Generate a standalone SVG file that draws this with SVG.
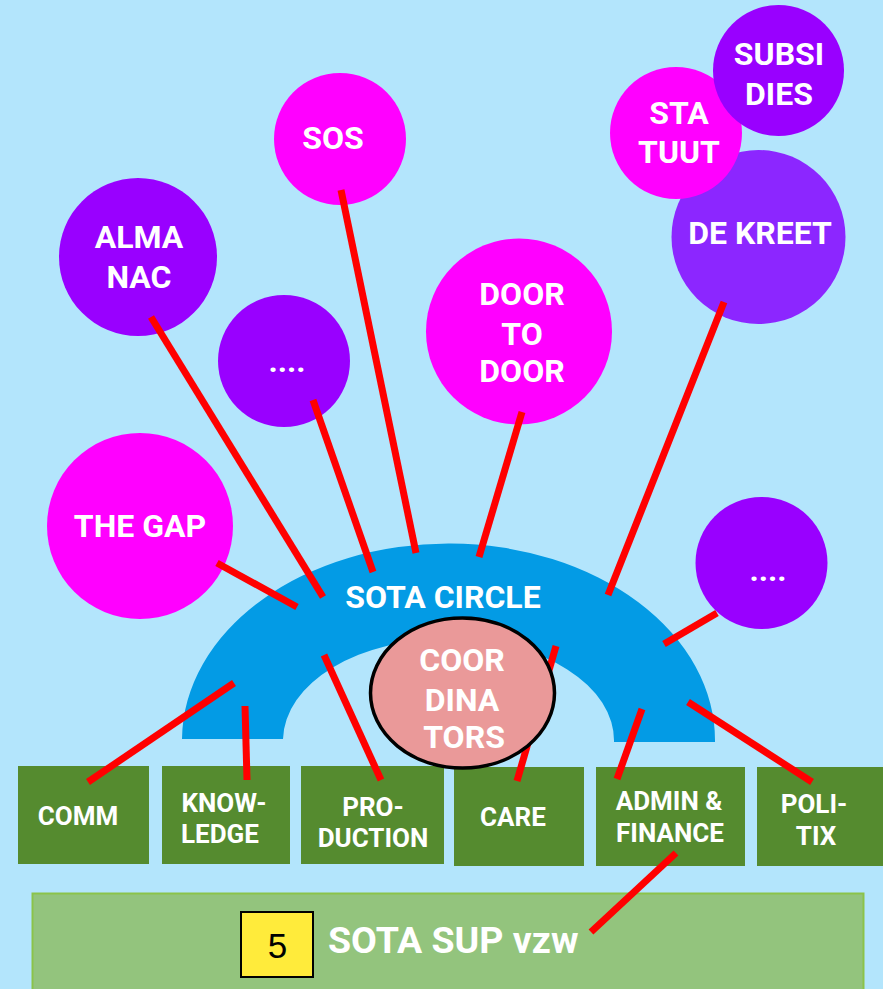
<svg xmlns="http://www.w3.org/2000/svg" width="883" height="989" viewBox="0 0 883 989">
<style>
.t{font-family:Roboto,"Liberation Sans",Arial,sans-serif;font-weight:bold;fill:#fff;text-anchor:middle}
.big{font-size:32px}
.sm{font-size:26px}
.mag{fill:#FF00FF}
.pur{fill:#9900FF}
.box{fill:#558B2F}
.ln{stroke:#FF0000;stroke-width:7;fill:none}
</style>
<rect width="883" height="989" fill="#B3E5FC"/>
<g id="sos"><circle class="mag" cx="340" cy="139" r="66"/><text class="t big" x="333" y="149">SOS</text></g>
<g id="almanac"><circle class="pur" cx="138" cy="257" r="79"/><text class="t big" x="139" y="248">ALMA</text><text class="t big" x="139" y="288">NAC</text></g>
<g id="dots1"><circle class="pur" cx="284" cy="361" r="66"/><text class="t big" x="287" y="372">....</text></g>
<g id="doortodoor"><circle class="mag" cx="519" cy="331.5" r="93"/><text class="t big" x="522" y="305">DOOR</text><text class="t big" x="522" y="345">TO</text><text class="t big" x="522" y="382">DOOR</text></g>
<g id="thegap"><circle class="mag" cx="140" cy="526" r="93"/><text class="t big" x="140" y="537">THE GAP</text></g>
<g id="dekreet"><circle cx="758.5" cy="237" r="87" fill="#8C26FF"/><text class="t big" x="760" y="244">DE KREET</text></g>
<g id="statuut"><circle class="mag" cx="676" cy="133" r="66"/><text class="t big" x="679" y="124">STA</text><text class="t big" x="679" y="163">TUUT</text></g>
<g id="subsidies"><circle class="pur" cx="778.5" cy="70.5" r="65.5"/><text class="t big" x="779" y="65">SUBSI</text><text class="t big" x="779" y="105">DIES</text></g>
<g id="dots2"><circle class="pur" cx="761.5" cy="563" r="66"/><text class="t big" x="768" y="581">....</text></g>
<g id="sotacircle"><path d="M182 739 A266.5 197 0 0 1 715 742 L614 742 A165.5 102 0 0 0 283 739 Z" fill="#039BE5"/><text class="t big" x="443" y="608">SOTA CIRCLE</text></g>
<g id="comm"><rect class="box" x="18" y="766" width="131" height="98"/><text class="t sm" x="78" y="825">COMM</text></g>
<g id="knowledge"><rect class="box" x="162" y="766" width="128" height="98"/><text class="t sm" x="224" y="812">KNOW-</text><text class="t sm" x="220" y="843">LEDGE</text></g>
<g id="production"><rect class="box" x="301" y="766" width="143" height="98"/><text class="t sm" x="373" y="816">PRO-</text><text class="t sm" x="373" y="847">DUCTION</text></g>
<g id="care"><rect class="box" x="454" y="767" width="130" height="99"/><text class="t sm" x="513" y="826">CARE</text></g>
<g id="admin"><rect class="box" x="596" y="767" width="149" height="99"/><text class="t sm" x="669" y="810">ADMIN &amp;</text><text class="t sm" x="670" y="842">FINANCE</text></g>
<g id="politix"><rect class="box" x="757" y="767" width="130" height="99"/><text class="t sm" x="814" y="813">POLI-</text><text class="t sm" x="816" y="845">TIX</text></g>
<g id="sotasup"><rect x="32.5" y="893.5" width="831" height="100" fill="#93C47D" stroke="#8BC34A" stroke-width="2"/>
<rect x="241" y="912" width="72" height="65" fill="#FFEB3B" stroke="#000" stroke-width="2"/>
<text x="277.5" y="958" font-family="Liberation Sans,Arial,sans-serif" font-size="35" text-anchor="middle" fill="#000">5</text>
<text x="328" y="953" font-family="Roboto,Liberation Sans,sans-serif" font-weight="bold" fill="#fff" font-size="37.5">SOTA SUP vzw</text></g>
<g id="connectors" class="ln">
<line x1="151" y1="317" x2="323" y2="597"/>
<line x1="313" y1="400" x2="373" y2="572"/>
<line x1="341" y1="190" x2="416" y2="553"/>
<line x1="522" y1="412" x2="479" y2="557"/>
<line x1="724" y1="302" x2="608" y2="595"/>
<line x1="217" y1="563" x2="297" y2="607"/>
<line x1="717" y1="613" x2="664" y2="644"/>
<line x1="234" y1="683" x2="88" y2="782"/>
<line x1="245" y1="706" x2="247" y2="780"/>
<line x1="324" y1="655" x2="381" y2="780"/>
<line x1="556" y1="646" x2="517" y2="781"/>
<line x1="642" y1="709" x2="617" y2="779"/>
<line x1="688" y1="702" x2="812" y2="782"/>
<line x1="676" y1="853" x2="591" y2="932"/>
</g>
<g id="coordinators"><ellipse cx="462.5" cy="693" rx="92" ry="75" fill="#EA9999" stroke="#000" stroke-width="3.5"/>
<text class="t big" x="462" y="671">COOR</text><text class="t big" x="462" y="711">DINA</text><text class="t big" x="464" y="748">TORS</text></g>
</svg>
